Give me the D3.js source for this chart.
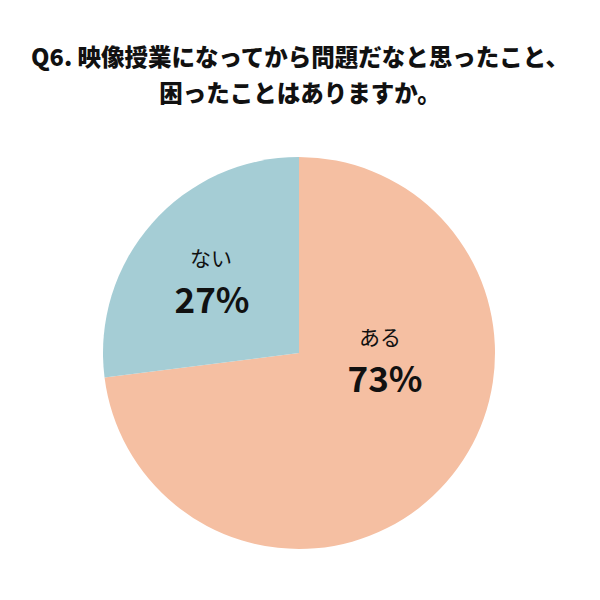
<!DOCTYPE html>
<html><head><meta charset="utf-8">
<script src="https://cdn.jsdelivr.net/npm/d3@7"></script>
<style>body{margin:0;background:#fff}</style>
</head><body>
<svg id="c" width="600" height="600"></svg>
<script>
const titleLines = ["Q6. 映像授業になってから問題だなと思ったこと、", "困ったことはありますか。"];
const categories = ["ある", "ない"];
const values = [73, 27];
const colors = ["#F5BFA2", "#A5CDD5"];

const svg = d3.select("#c");
const font = "'Noto Sans CJK JP', 'Noto Sans', sans-serif";
svg.append("rect").attr("width",600).attr("height",600).attr("fill","#fff");

svg.selectAll("text.title").data(titleLines).enter().append("text")
  .attr("x",300).attr("y",(d,i)=>66+i*36)
  .attr("text-anchor","middle").attr("font-family",font)
  .attr("font-weight",900).attr("font-size",23.5).attr("fill","#111")
  .text(d=>d);

const cx=299, cy=353, r=196;
const data = categories.map((c,i)=>({cat:c,val:values[i],color:colors[i]}));
const pie = d3.pie().sort(null).value(d=>d.val);
const arc = d3.arc().innerRadius(0).outerRadius(r);
const g = svg.append("g").attr("transform",`translate(${cx},${cy})`);
const arcs = pie(data);
g.selectAll("path").data(arcs).enter().append("path")
  .attr("d",arc).attr("fill",d=>d.data.color);

const labelPos = [[86,-1],[-87,-80]];
const lg = g.selectAll("g.lbl").data(arcs).enter().append("g")
  .attr("transform",(d,i)=>`translate(${labelPos[i][0]},${labelPos[i][1]})`);
lg.append("text").attr("text-anchor","middle").attr("y",-7)
  .attr("font-family",font).attr("font-size",21).attr("fill","#111")
  .attr("transform",(d,i)=>`translate(${i===0?-5:-1},0)`)
  .text(d=>d.data.cat);
lg.append("text").attr("text-anchor","middle").attr("y",40)
  .attr("font-family",font).attr("font-weight","bold").attr("font-size",35).attr("fill","#111")
  .text(d=>d.data.val+"%");
</script>
</body></html>
